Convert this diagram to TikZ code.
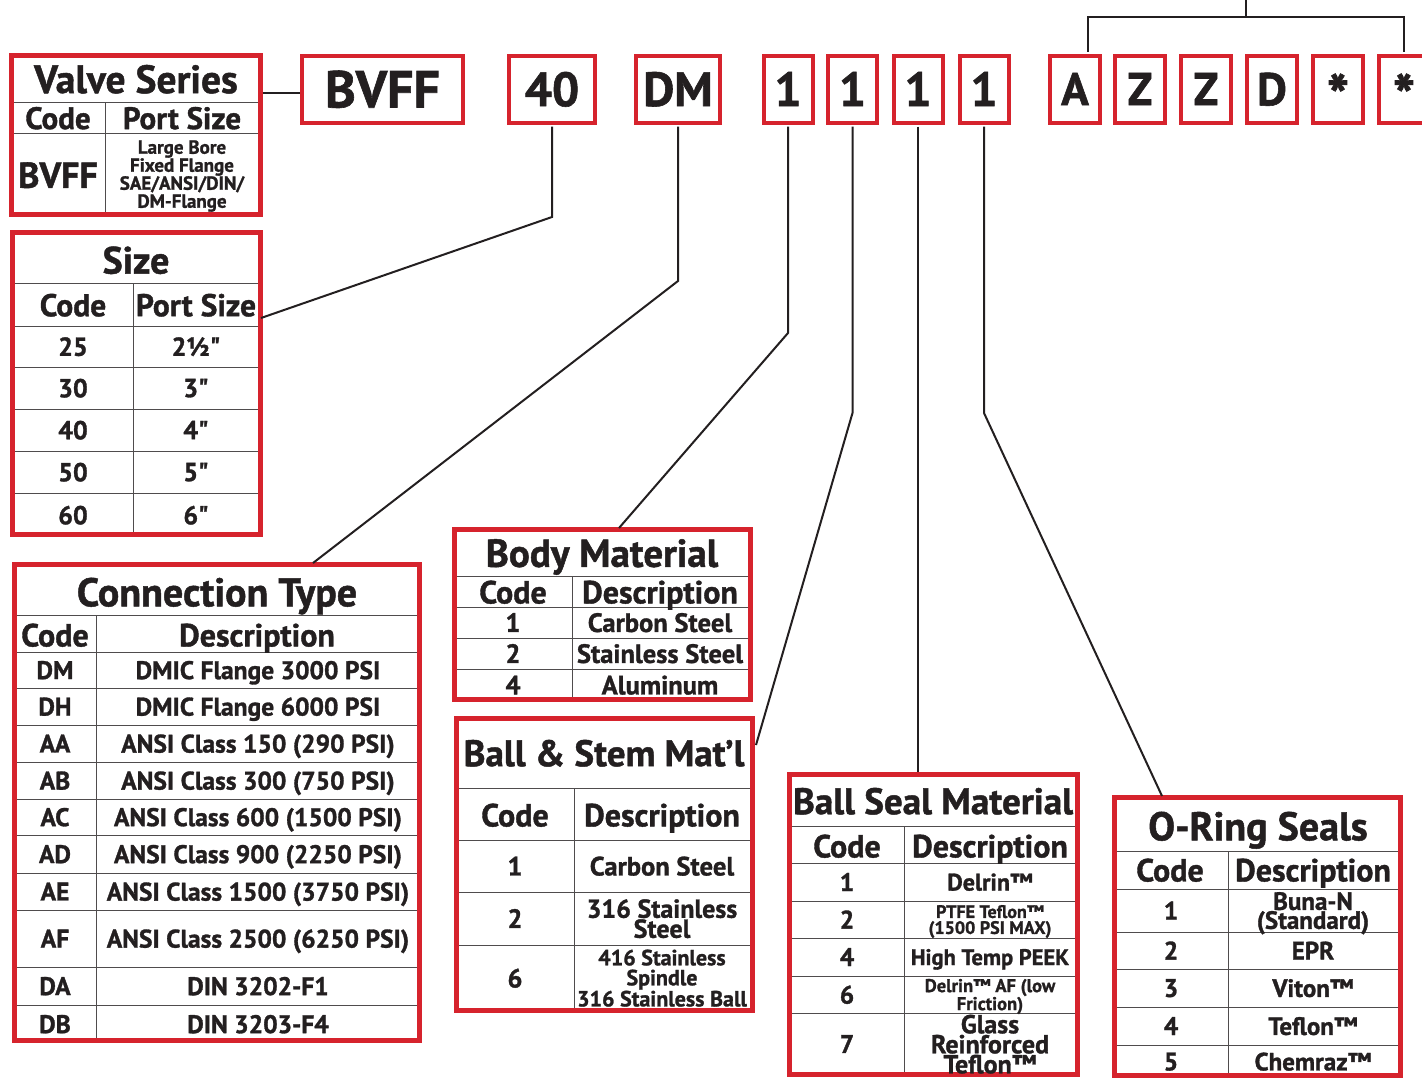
\documentclass[tikz,border=0pt]{standalone}
\usepackage{fontspec}
\setmainfont{PT Sans}[Ligatures=TeXOff, BoldFeatures={FakeBold=1.2}]
\definecolor{vred}{RGB}{214,35,45}
\definecolor{ink}{RGB}{35,31,32}
\newcommand\vfs[1]{\fontsize{#1}{#1}\selectfont\bfseries}
\newcommand\vfsl[2]{\fontsize{#1}{#2}\selectfont\bfseries}

\tikzset{
  codebox/.style={draw=vred, fill=white, line width=4pt, minimum height=67pt,
    inner sep=0pt, text depth=0pt, text=ink, font=\vfs{48}},
  tablebox/.style={draw=vred, line width=5pt, inner sep=0pt},
  gridline/.style={draw=ink!80, line width=1pt},
  wire/.style={draw=ink, line width=2pt},
  cell/.style={inner sep=0pt, align=center, text=ink, text depth=0pt},
}

\begin{document}
\begin{tikzpicture}[x=1pt, y=-1pt]
    \useasboundingbox (0,0) rectangle (1422,1079);

    % code boxes along the top
    \node[codebox, minimum width=161pt, font=\vfs{52}] (cBVFF) at (382.5,89) {BVFF};
    \node[codebox, minimum width=86pt] (c40) at (552,89) {40};
    \node[codebox, minimum width=84pt] (cDM) at (678,89) {DM};
    \foreach \x/\n in {788/a,852.5/b,918/c,984/d}
        \node[codebox, minimum width=49pt] (c1\n) at (\x,89) {1};
    \foreach \x/\t/\n in {1075/A/A,1140/Z/Z1,1206/Z/Z2,1272/D/D}
        \node[codebox, minimum width=50pt, font=\vfs{46}] (c\n) at (\x,89) {\t};
    \foreach \x/\n in {1338/S1,1404/S2}
        \node[codebox, minimum width=50pt, font=\vfs{60}] (c\n) at (\x,89) {\raisebox{-13pt}{*}};

    % Valve Series
    \foreach \y in {102,133} \draw[gridline] (12,\y) -- (260,\y);
    \draw[gridline] (105,102) -- (105,215);
    \node[tablebox, minimum width=249pt, minimum height=159pt] (valve) at (136,135) {};
    \node[cell, font=\vfs{39.5}] (valve-t) at (136,79) {Valve Series};
    \node[cell, font=\vfs{31}] (valve-hc) at (58,118) {Code};
    \node[cell, font=\vfs{31}] (valve-hp) at (182,118) {Port Size};
    \node[cell, font=\vfs{36}] (valve-c) at (58,175) {BVFF};
    \node[cell, font=\vfsl{19}{18}] (valve-d) at (182,174) {Large Bore\\Fixed Flange\\SAE/ANSI/DIN/\\DM-Flange};

    % Size
    \foreach \y in {283,326,367,409,451,493} \draw[gridline] (13,\y) -- (260,\y);
    \draw[gridline] (133,283) -- (133,535);
    \node[tablebox, minimum width=248pt, minimum height=302pt] (size) at (136.5,383.5) {};
    \node[cell, font=\vfs{38}] (size-t) at (136,260) {Size};
    \node[cell, font=\vfs{31.5}] (size-hc) at (73,305) {Code};
    \node[cell, font=\vfs{31.5}] (size-hp) at (196,305) {Port Size};
    \foreach \y/\c/\d [count=\i] in {346.5/25/2½",388/30/3",430/40/4",472/50/5",515/60/6"} {
        \node[cell, font=\vfs{26}] (size-c\i) at (73,\y) {\c};
        \node[cell, font=\vfs{26}] (size-d\i) at (196,\y) {\d};
    }

    % Connection Type
    \foreach \y in {615,652,688,725,762,799,835,873,910,967,1005} \draw[gridline] (15,\y) -- (419,\y);
    \draw[gridline] (96,615) -- (96,1041);
    \node[tablebox, minimum width=405pt, minimum height=476pt] (conn) at (217,802.5) {};
    \node[cell, font=\vfs{40}] (conn-t) at (217,592) {Connection Type};
    \node[cell, font=\vfs{32}] (conn-hc) at (55,635) {Code};
    \node[cell, font=\vfs{32}] (conn-hd) at (257,635) {Description};
    \foreach \y/\c/\d [count=\i] in {670/DM/DMIC Flange 3000 PSI,706.5/DH/DMIC Flange 6000 PSI,
        743.5/AA/ANSI Class 150 (290 PSI),780.5/AB/ANSI Class 300 (750 PSI),
        817/AC/ANSI Class 600 (1500 PSI),854/AD/ANSI Class 900 (2250 PSI),
        891.5/AE/ANSI Class 1500 (3750 PSI),938.5/AF/ANSI Class 2500 (6250 PSI),
        986/DA/DIN 3202-F1,1024/DB/DIN 3203-F4} {
        \node[cell, font=\vfs{25.5}] (conn-c\i) at (55,\y) {\c};
        \node[cell, font=\vfs{25.5}] (conn-d\i) at (258,\y) {\d};
    }

    % Body Material
    \foreach \y in {576,607,638,669} \draw[gridline] (457,\y) -- (748,\y);
    \draw[gridline] (572,576) -- (572,700);
    \node[tablebox, minimum width=296pt, minimum height=170pt] (body) at (602.5,614.5) {};
    \node[cell, font=\vfs{39}] (body-t) at (602,553) {Body Material};
    \node[cell, font=\vfs{32}] (body-hc) at (513,592) {Code};
    \node[cell, font=\vfs{32}] (body-hd) at (660,592) {Description};
    \foreach \y/\c/\d [count=\i] in {622.5/1/Carbon Steel,653.5/2/Stainless Steel,685/4/Aluminum} {
        \node[cell, font=\vfs{26.5}] (body-c\i) at (513,\y) {\c};
        \node[cell, font=\vfs{26.5}] (body-d\i) at (660,\y) {\d};
    }

    % Ball & Stem
    \foreach \y in {788,840,892,945} \draw[gridline] (459,\y) -- (750,\y);
    \draw[gridline] (574,788) -- (574,1011);
    \node[tablebox, minimum width=296pt, minimum height=292pt] (stem) at (604.5,864.5) {};
    \node[cell, font=\vfs{37}] (stem-t) at (604,753) {Ball \& Stem Mat’l};
    \node[cell, font=\vfs{32}] (stem-hc) at (515,815) {Code};
    \node[cell, font=\vfs{32}] (stem-hd) at (662,815) {Description};
    \foreach \y/\c/\f/\l/\d [count=\i] in {866/1/26.5/26/Carbon Steel,
        918.5/2/26/20/{316 Stainless\\Steel},
        978/6/22/20/{416 Stainless\\Spindle\\316 Stainless Ball}} {
        \node[cell, font=\vfs{26.5}] (stem-c\i) at (515,\y) {\c};
        \node[cell, font=\vfsl{\f}{\l}] (stem-d\i) at (662,\y) {\d};
    }

    % Ball Seal Material
    \foreach \y in {826,863,901,938,976,1013} \draw[gridline] (792,\y) -- (1075,\y);
    \draw[gridline] (904,826) -- (904,1075);
    \node[tablebox, minimum width=288pt, minimum height=300pt] (seal) at (933.5,924.5) {};
    \node[cell, font=\vfs{37}] (seal-t) at (933,801) {Ball Seal Material};
    \node[cell, font=\vfs{32}] (seal-hc) at (847,846) {Code};
    \node[cell, font=\vfs{32}] (seal-hd) at (990,846) {Description};
    \foreach \y/\c/\f/\l/\d [count=\i] in {882/1/24/24/Delrin™,
        919.5/2/18/16/{PTFE Teflon™\\(1500 PSI MAX)},
        957/4/22.5/22/High Temp PEEK,
        994.5/6/18.5/18/{Delrin™ AF (low\\Friction)},
        1044/7/26/20/{Glass\\Reinforced\\Teflon™}} {
        \node[cell, font=\vfs{25.5}] (seal-c\i) at (847,\y) {\c};
        \node[cell, font=\vfsl{\f}{\l}] (seal-d\i) at (990,\y) {\d};
    }

    % O-Ring Seals
    \foreach \y in {851,889,932,969,1007,1045} \draw[gridline] (1117,\y) -- (1398,\y);
    \draw[gridline] (1228,851) -- (1228,1076);
    \node[tablebox, minimum width=286pt, minimum height=278pt] (oring) at (1257.5,936.5) {};
    \node[cell, font=\vfs{40}] (oring-t) at (1258,826) {O-Ring Seals};
    \node[cell, font=\vfs{32}] (oring-hc) at (1170,870) {Code};
    \node[cell, font=\vfs{32}] (oring-hd) at (1313,870) {Description};
    \foreach \y/\c/\f/\l/\d [count=\i] in {910.5/1/25/19/{Buna-N\\(Standard)},
        950.5/2/25/25/EPR,988/3/25/25/Viton™,1026/4/25/25/Teflon™,1061.5/5/25/25/Chemraz™} {
        \node[cell, font=\vfs{25.5}] (oring-c\i) at (1171,\y) {\c};
        \node[cell, font=\vfsl{\f}{\l}] (oring-d\i) at (1313,\y) {\d};
    }

    % leader lines
    \coordinate (sizeIn) at (261,318);
    \coordinate (connIn) at (313,563);
    \coordinate (bodyIn) at (619,528);
    \coordinate (stemIn) at (756,745);
    \coordinate (oringIn) at (1162,796);
    \coordinate (brk) at (1246,17);
    \draw[wire] (valve.east |- 0,93) -- (cBVFF.west |- 0,93);
    \draw[wire, shorten <=2pt] (c40.south) -- (c40.south |- 0,217) -- (sizeIn);
    \draw[wire, shorten <=2pt] (cDM.south) -- (cDM.south |- 0,281) -- (connIn);
    \draw[wire, shorten <=2pt] (c1a.south) -- (c1a.south |- 0,333) -- (bodyIn);
    \draw[wire, shorten <=2pt] (c1b.south) -- (c1b.south |- 0,413) -- (stemIn);
    \draw[wire, shorten <=2pt] (c1c.south) -- (c1c.south |- seal.north);
    \draw[wire, shorten <=2pt] (c1d.south) -- (c1d.south |- 0,413) -- (oringIn);
    \draw[wire, shorten >=2pt] (brk) -| ([xshift=13pt]cA.north);
    \draw[wire, shorten >=2pt] (brk) -| (cS2.north);
    \draw[wire] (brk) -- (1246,-2);
\end{tikzpicture}
\end{document}
